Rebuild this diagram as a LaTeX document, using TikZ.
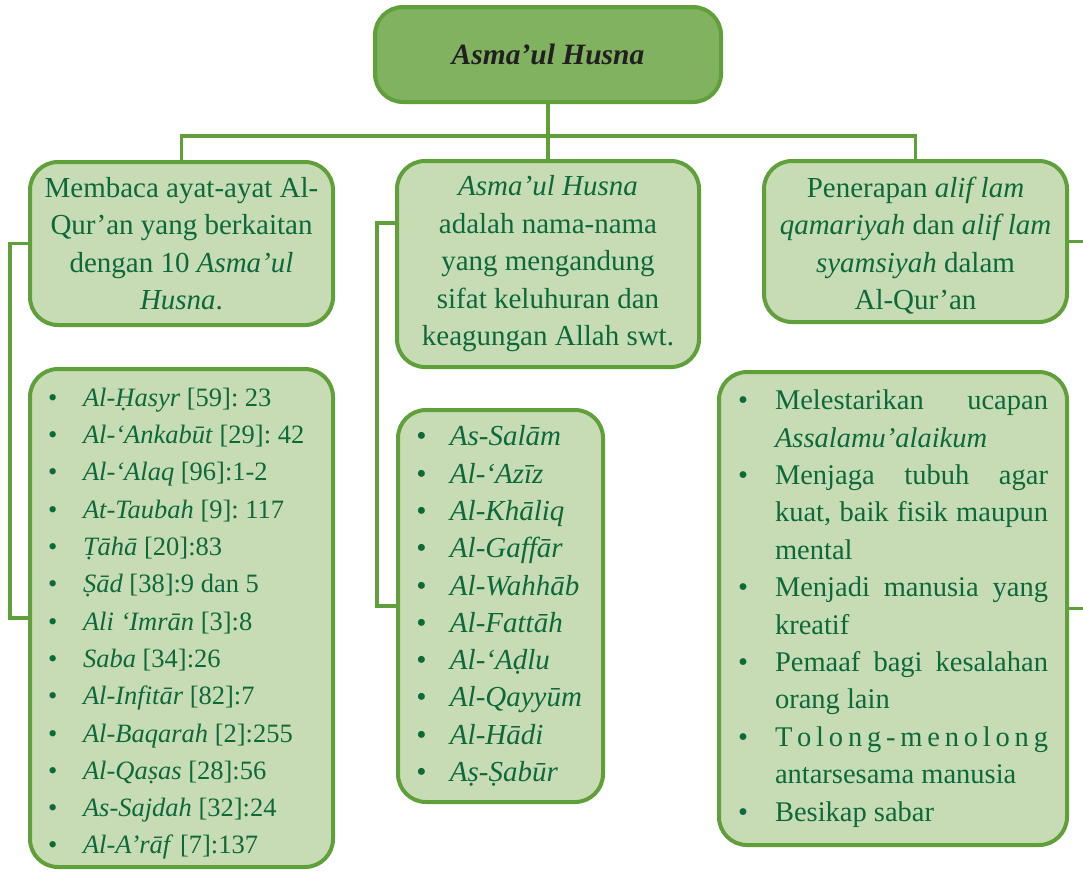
\documentclass[tikz,border=0pt]{standalone}
\usepackage{fontspec}
\setmainfont{Liberation Serif}
\frenchspacing
\definecolor{bord}{RGB}{96,160,58}
\definecolor{lightf}{RGB}{199,220,181}
\definecolor{hdrf}{RGB}{128,178,96}
\definecolor{txt}{RGB}{12,105,58}
\definecolor{hdrt}{RGB}{35,31,32}
\newcommand\bl[1]{\makebox[#1][l]{\textbullet}}
\newcommand\ind[1]{\hspace*{#1}}
\newcommand\jl[1]{{\spaceskip=0pt\xspaceskip=0pt\makebox[273pt][s]{#1}}}
\tikzset{
  box/.style={draw=bord, line width=4pt, rounded corners=28pt, fill=lightf, text=txt,
    inner ysep=0pt, font=\fontsize{29}{37.5}\selectfont},
  hdr/.style={draw=bord, line width=4pt, rounded corners=28pt, fill=hdrf, text=hdrt,
    font=\fontsize{29.5}{36}\selectfont\bfseries\itshape},
  conn/.style={draw=bord, line width=3.5pt}
}
\begin{document}
\begin{tikzpicture}[x=1pt,y=-1pt]
\useasboundingbox (0,0) rectangle (1083,871);
% header
\node[hdr, minimum width=346pt, minimum height=95pt] (top) at (548,54.5) {Asma’ul Husna};
% top row
\node[box, minimum width=303pt, minimum height=163pt, text width=283pt, inner xsep=10pt, align=flush center]
  (lt) at (181.5,243.5)
  {Membaca ayat-ayat Al-\\ Qur’an yang berkaitan\\ dengan 10 \textit{Asma’ul}\\ \textit{Husna}.};
\node[box, minimum width=302pt, minimum height=206pt, text width=282pt, inner xsep=10pt, align=flush center]
  (mt) at (548,264)
  {\textit{Asma’ul Husna}\\ adalah nama-nama\\ yang mengandung\\ sifat keluhuran dan\\ keagungan Allah swt.};
\node[box, minimum width=303pt, minimum height=161pt, text width=283pt, inner xsep=10pt, align=flush center]
  (rt) at (915.5,241.5)
  {\rule{0pt}{29pt}Penerapan \textit{alif lam}\\ \textit{qamariyah} dan \textit{alif lam}\\ \textit{syamsiyah} dalam\\ Al-Qur’an};
% bottom row
\node[box, minimum width=303pt, minimum height=498pt, text width=267pt, inner xsep=18pt, align=flush left,
  font=\fontsize{26.5}{37.3}\selectfont]
  (lb) at (181.5,618)
  {\rule{0pt}{30pt}\bl{35pt}\textit{Al-Ḥasyr} [59]: 23\\
   \bl{35pt}\textit{Al-‘Ankabūt} [29]: 42\\
   \bl{35pt}\textit{Al-‘Alaq} [96]:1-2\\
   \bl{35pt}\textit{At-Taubah} [9]: 117\\
   \bl{35pt}\textit{Ṭāhā} [20]:83\\
   \bl{35pt}\textit{Ṣād} [38]:9 dan 5\\
   \bl{35pt}\textit{Ali ‘Imrān} [3]:8\\
   \bl{35pt}\textit{Saba} [34]:26\\
   \bl{35pt}\textit{Al-Infitār} [82]:7\\
   \bl{35pt}\textit{Al-Baqarah} [2]:255\\
   \bl{35pt}\textit{Al-Qaṣas} [28]:56\\
   \bl{35pt}\textit{As-Sajdah} [32]:24\\
   \bl{35pt}\textit{Al-A’rāf} [7]:137};
\node[box, minimum width=205pt, minimum height=392pt, text width=169pt, inner xsep=18pt, align=flush left,
  font=\fontsize{29}{37.3}\selectfont\itshape]
  (mb) at (500.5,606)
  {\bl{34pt}As-Salām\\
   \bl{34pt}Al-‘Azīz\\
   \bl{34pt}Al-Khāliq\\
   \bl{34pt}Al-Gaffār\\
   \bl{34pt}Al-Wahhāb\\
   \bl{34pt}Al-Fattāh\\
   \bl{34pt}Al-‘Aḍlu\\
   \bl{34pt}Al-Qayyūm\\
   \bl{34pt}Al-Hādi\\
   \bl{34pt}Aṣ-Ṣabūr};
\node[box, minimum width=348pt, minimum height=473pt, text width=310pt, inner xsep=19pt, align=flush left,
  font=\fontsize{28.5}{37.4}\selectfont]
  (rb) at (893,608.5)
  {\bl{37pt}\jl{Melestarikan ucapan}\\
   \ind{37pt}\textit{Assalamu’alaikum}\\
   \bl{37pt}\jl{Menjaga tubuh agar}\\
   \ind{37pt}\jl{kuat, baik fisik maupun}\\
   \ind{37pt}mental\\
   \bl{37pt}\jl{Menjadi manusia yang}\\
   \ind{37pt}kreatif\\
   \bl{37pt}\jl{Pemaaf bagi kesalahan}\\
   \ind{37pt}orang lain\\
   \bl{37pt}\jl{T\hfill o\hfill l\hfill o\hfill n\hfill g\hfill -\hfill m\hfill e\hfill n\hfill o\hfill l\hfill o\hfill n\hfill g}\\
   \ind{37pt}antarsesama manusia\\
   \bl{37pt}Besikap sabar};
% connectors
\coordinate (j) at (548,136);
\draw[conn] (top.south) -- (mt.north);
\draw[conn] (lt.north) -- (lt.north |- j) -- (rt.north |- j) -- (rt.north);
\draw[conn] (lt.west) -- ++(-18,0) |- (lb.west);
\draw[conn] ([yshift=41pt]mt.west) -- ++(-18,0) |- (mb.west);
\draw[conn] (rt.east) -- ++(22,0) |- (rb.east);
\end{tikzpicture}
\end{document}
